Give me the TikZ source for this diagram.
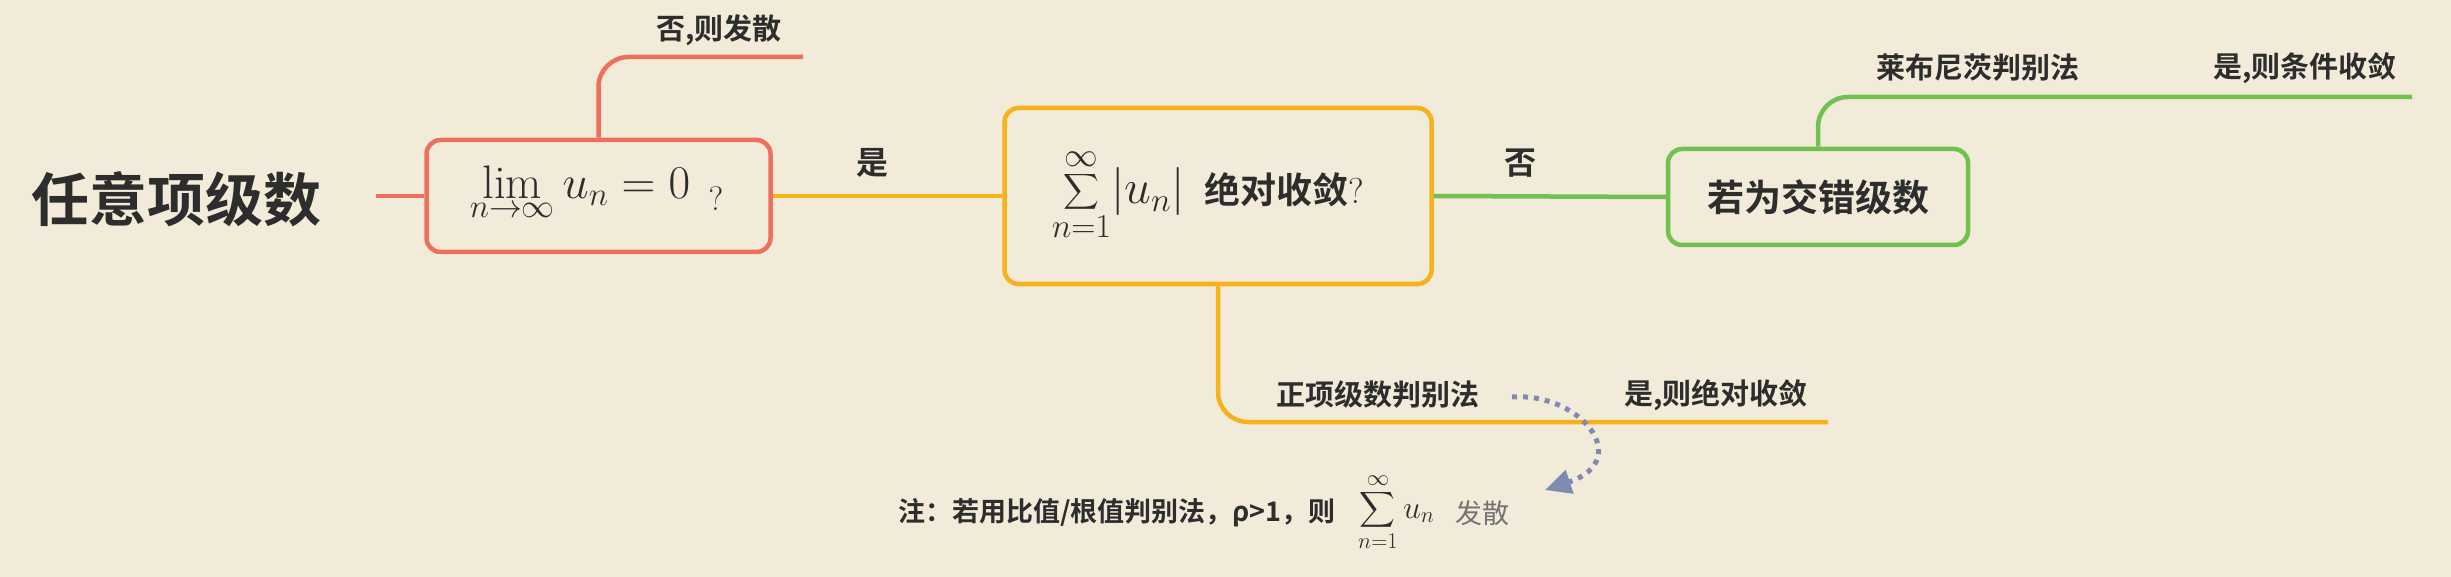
\RequirePackage{fix-cm}
\documentclass[tikz,border=0pt]{standalone}
\usepackage{exscale}
\usepackage{fontspec}
\usetikzlibrary{arrows.meta}
\newfontfamily\cjkb{Noto Sans CJK SC Bold}
\newfontfamily\cjkr{Noto Sans CJK SC}
\definecolor{bg}{RGB}{242,235,217}
\definecolor{redc}{RGB}{238,112,92}
\definecolor{orangec}{RGB}{246,178,27}
\definecolor{greenc}{RGB}{112,193,78}
\definecolor{dotc}{RGB}{125,140,175}
\definecolor{txt}{RGB}{45,45,45}
\definecolor{grayt}{RGB}{115,115,115}
\begin{document}
\begin{tikzpicture}[x=1pt,y=-1pt,
  box/.style={draw, rounded corners=14pt, line width=4.5pt, fill=bg, inner sep=0pt},
  wire/.style={line width=4.5pt},
  lbl/.style={text=txt, font=\cjkb\fontsize{29}{32}\selectfont, inner sep=0pt},
  mth/.style={text=txt, inner sep=0pt, font=\fontsize{47}{56}\selectfont}]
\fill[bg] (0,0) rectangle (2451,577);
\useasboundingbox (0,0) rectangle (2451,577);

% title
\node[text=txt, font=\cjkb\fontsize{58}{64}\selectfont, inner sep=0pt] (title) at (176,199) {任意项级数};

% boxes
\node[box, draw=redc, minimum width=344pt, minimum height=112pt] (b1) at (598.5,196) {};
\node[mth] (m1) at (580,193) {$\displaystyle\lim_{n\to\infty} u_n = 0$};
\node[text=txt, inner sep=0pt, font=\fontsize{34}{36}\selectfont] (q1) at (716,199) {?};

\node[box, draw=orangec, minimum width=427pt, minimum height=176pt] (b2) at (1218,196) {};
\node[text=txt, inner sep=0pt] (m2) at (1208,195) {\fontsize{48}{56}\selectfont$\displaystyle\sum_{n=1}^{\infty}\!|u_n|$\hspace{20pt}{\cjkb\fontsize{36}{40}\selectfont 绝对收敛\rmfamily ?}};

\node[box, draw=greenc, minimum width=300pt, minimum height=96pt, text=txt, font=\cjkb\fontsize{37}{40}\selectfont] (b3) at (1818,197) {若为交错级数};

% end points
\coordinate (s0) at (376,196);
\coordinate (e1) at (803,57);
\coordinate (e2) at (1828,422);
\coordinate (e3) at (2412,97);

% wires
\draw[wire, redc] (s0) -- (b1.west);
\draw[wire, orangec] (b1.east) -- (b2.west);
\draw[wire, greenc] (b2.east) -- (b3.west);
\draw[wire, redc, rounded corners=30pt] (b1.north) |- (e1);
\draw[wire, orangec, rounded corners=30pt] (b2.south) |- (e2);
\draw[wire, greenc, rounded corners=30pt] (b3.north) |- (e3);

% labels
\node[lbl] (l1) at (719,30) {否,则发散};
\node[lbl, font=\cjkb\fontsize{32}{34}\selectfont] (yes) at (872,163) {是};
\node[lbl, font=\cjkb\fontsize{32}{34}\selectfont] (no) at (1520,163) {否};
\node[lbl] (l2) at (1978,68) {莱布尼茨判别法};
\node[lbl] (l3) at (2305,68) {是,则条件收敛};
\node[lbl] (l4) at (1378,395) {正项级数判别法};
\node[lbl] (l5) at (1716,395) {是,则绝对收敛};

% note
\node[text=txt, inner sep=0pt, font=\cjkb\fontsize{27}{30}\selectfont, anchor=east] (nt) at (1336,513) {注：若用比值/根值判别法，ρ>1，则};
\node[text=txt, inner sep=0pt, font=\fontsize{32}{38}\selectfont, anchor=west] (ns) at (1358,512) {$\displaystyle\sum_{n=1}^{\infty}u_n$};
\node[text=grayt, inner sep=0pt, font=\cjkr\fontsize{27}{30}\selectfont, anchor=west] (nf) at (1455,513) {发散};

% dotted arrow
\coordinate (ds) at (1512,397);
\coordinate (de) at (1545,490);
\draw[dotc, line width=5pt, dash pattern=on 5pt off 6pt, -{Triangle[length=26pt,width=24pt]}] (ds) .. controls (1580,392) and (1635,460) .. (de);
\end{tikzpicture}
\end{document}
